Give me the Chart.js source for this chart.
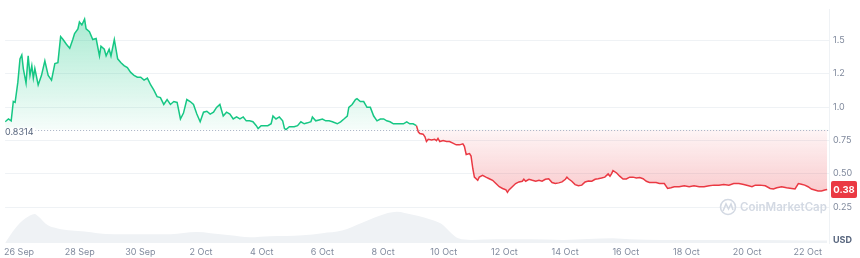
<!DOCTYPE html>
<html>
<head>
<meta charset="utf-8">
<script src="https://cdn.jsdelivr.net/npm/chart.js@4.4.0/dist/chart.umd.min.js"></script>
<style>
  html, body { margin: 0; padding: 0; background: #fff; }
</style>
</head>
<body>
<canvas id="priceChart" width="860" height="258"></canvas>
<script>
// 基準價（區間開盤價）
const BASELINE = 0.8314;

// 價格：距 26 Sep 00:00 的天數 / 價格 (USD)
const priceDays = [
  -0.46,-0.35,-0.26,-0.19,-0.13,-0.04,0.03,0.09,0.14,0.23,
  0.30,0.36,0.42,0.47,0.52,0.63,0.74,0.85,0.96,1.07,
  1.18,1.28,1.37,1.45,1.56,1.67,1.77,1.83,1.94,1.99,
  2.07,2.16,2.21,2.32,2.43,2.54,2.65,2.70,2.81,2.87,
  2.97,3.03,3.14,3.25,3.36,3.46,3.57,3.68,3.79,3.90,
  4.01,4.12,4.23,4.34,4.44,4.55,4.66,4.77,4.88,4.99,
  5.10,5.21,5.32,5.42,5.53,5.64,5.75,5.86,5.97,6.08,
  6.19,6.30,6.41,6.51,6.62,6.73,6.84,6.95,7.06,7.17,
  7.28,7.39,7.49,7.60,7.71,7.82,7.88,7.98,8.09,8.20,
  8.31,8.37,8.47,8.58,8.69,8.75,8.80,8.91,9.07,9.18,
  9.29,9.40,9.51,9.62,9.67,9.78,9.89,10.00,10.11,10.22,
  10.33,10.49,10.60,10.71,10.82,10.87,10.98,11.09,11.14,11.25,
  11.36,11.47,11.58,11.69,11.80,11.91,12.02,12.12,12.23,12.34,
  12.51,12.67,12.78,12.88,12.99,13.10,13.16,13.21,13.32,13.38,
  13.43,13.49,13.60,13.70,13.76,13.81,13.87,13.98,14.09,14.19,
  14.30,14.41,14.52,14.63,14.68,14.74,14.85,14.90,14.96,15.01,
  15.12,15.17,15.28,15.39,15.50,15.61,15.72,15.83,15.94,16.05,
  16.10,16.15,16.26,16.37,16.48,16.59,16.64,16.70,16.81,16.92,
  17.03,17.14,17.24,17.35,17.46,17.57,17.68,17.79,17.90,18.01,
  18.06,18.11,18.22,18.33,18.44,18.55,18.66,18.77,18.88,18.99,
  19.09,19.20,19.31,19.42,19.48,19.53,19.58,19.70,19.80,19.91,
  20.02,20.13,20.24,20.35,20.46,20.57,20.68,20.78,21.00,21.11,
  21.27,21.38,21.49,21.60,21.76,21.93,22.09,22.25,22.42,22.58,
  22.75,22.91,23.07,23.23,23.40,23.56,23.73,23.89,24.05,24.16,
  24.27,24.43,24.60,24.76,24.87,24.98,25.14,25.30,25.47,25.58,
  25.69,25.79,25.90,26.01,26.12,26.23,26.34,26.45,26.56,26.64
];
const priceValues = [
  0.890,0.911,0.897,1.042,1.035,1.187,1.362,1.391,1.289,1.180,
  1.384,1.238,1.311,1.217,1.289,1.166,1.238,1.347,1.238,1.202,
  1.326,1.333,1.529,1.507,1.471,1.442,1.507,1.551,1.587,1.638,
  1.616,1.660,1.587,1.565,1.507,1.514,1.384,1.456,1.434,1.384,
  1.434,1.384,1.507,1.362,1.333,1.311,1.296,1.260,1.238,1.224,
  1.224,1.202,1.217,1.166,1.129,1.078,1.071,1.020,1.057,1.020,
  1.042,1.035,0.911,0.955,1.057,1.042,1.020,0.948,0.890,0.962,
  0.969,0.948,0.962,0.998,1.020,0.933,0.962,0.948,0.911,0.926,
  0.911,0.926,0.897,0.897,0.890,0.861,0.839,0.861,0.861,0.861,
  0.875,0.933,0.911,0.926,0.897,0.839,0.832,0.853,0.853,0.861,
  0.890,0.875,0.882,0.890,0.926,0.897,0.904,0.911,0.897,0.897,
  0.890,0.875,0.890,0.911,0.933,0.998,1.020,1.057,1.064,1.042,
  1.042,0.998,0.998,0.933,0.897,0.911,0.911,0.897,0.890,0.875,
  0.875,0.875,0.890,0.875,0.875,0.861,0.815,0.802,0.797,0.778,
  0.742,0.759,0.754,0.759,0.749,0.766,0.742,0.749,0.742,0.742,
  0.730,0.717,0.717,0.725,0.706,0.645,0.652,0.633,0.536,0.475,
  0.451,0.475,0.488,0.475,0.463,0.451,0.427,0.403,0.390,0.379,
  0.361,0.379,0.403,0.427,0.439,0.444,0.459,0.444,0.459,0.451,
  0.444,0.451,0.444,0.459,0.463,0.434,0.427,0.432,0.439,0.459,
  0.475,0.463,0.444,0.419,0.410,0.415,0.439,0.446,0.444,0.459,
  0.463,0.468,0.475,0.499,0.482,0.499,0.524,0.506,0.482,0.461,
  0.461,0.475,0.475,0.469,0.472,0.463,0.444,0.435,0.434,0.427,
  0.427,0.390,0.395,0.403,0.403,0.410,0.403,0.410,0.403,0.403,
  0.410,0.415,0.415,0.419,0.415,0.427,0.427,0.419,0.410,0.403,
  0.415,0.415,0.410,0.390,0.386,0.395,0.403,0.395,0.390,0.386,
  0.427,0.422,0.415,0.403,0.386,0.379,0.371,0.371,0.379,0.382
];

// 成交量（百萬，示意單位）
const volumeDays = [
  -0.46,-0.13,0.20,0.52,0.62,0.95,1.27,1.73,2.16,2.58,
  3.14,3.89,5.00,5.85,6.31,6.96,7.61,8.27,9.35,10.00,
  10.65,11.31,11.86,12.45,12.71,13.17,13.59,13.92,14.25,14.48,
  14.90,15.78,16.86,17.94,19.58,20.13,21.21,22.32,23.40,24.48,
  26.11,26.64
];
const volumeValues = [
  0,28,47,56,52,34,28,24,22,19,
  17,17,17,21,19,15,11,13,15,19,
  24,39,52,60,58,52,45,37,19,9,
  6,7,7,6,9,7,6,6,6,6,
  5,5
];

// 座標軸刻度
const tickDays = [0,2,4,6,8,10,12,14,16,18,20,22,24,26];
const tickLabels = ['26 Sep','28 Sep','30 Sep','2 Oct','4 Oct','6 Oct','8 Oct',
                    '10 Oct','12 Oct','14 Oct','16 Oct','18 Oct','20 Oct','22 Oct'];
const priceTicks = [0, 0.25, 0.5, 0.75, 1.0, 1.25, 1.5];
const priceTickLabels = ['USD', '0.25', '0.50', '0.75', '1.0', '1.2', '1.5'];

const GREEN = '#16c784';
const RED = '#ea3943';
const FONT = 'Inter, "Noto Sans", sans-serif';

/**
 * 上綠下紅的漸層填色
 */
function fillGradient(context) {
  const chart = context.chart;
  const area = chart.chartArea;
  if (!area || !chart.scales.y) return 'transparent';
  const y = chart.scales.y;
  const top = y.getPixelForValue(Math.max(...priceValues));
  const bottom = y.getPixelForValue(Math.min(...priceValues));
  const base = y.getPixelForValue(BASELINE);
  const stop = Math.min(Math.max((base - top) / (bottom - top), 0), 1);
  const g = chart.ctx.createLinearGradient(0, top, 0, bottom);
  g.addColorStop(0, 'rgba(22,199,132,0.36)');
  g.addColorStop(stop, 'rgba(22,199,132,0.04)');
  g.addColorStop(stop, 'rgba(234,57,67,0.05)');
  g.addColorStop(1, 'rgba(234,57,67,0.26)');
  return g;
}

function isUsdTick(c) {
  return !!(c && c.tick && c.tick.value === 0);
}

/**
 * 基準虛線、標籤、最新價與浮水印
 */
const overlayPlugin = {
  id: 'overlay',
  beforeDatasetsDraw(chart) {
    const { ctx } = chart;
    // 浮水印
    ctx.save();
    ctx.strokeStyle = '#d3d9e3';
    ctx.lineWidth = 1.6;
    ctx.beginPath();
    ctx.arc(728, 207, 7.5, 0, Math.PI * 2);
    ctx.stroke();
    ctx.beginPath();
    ctx.moveTo(723, 211);
    ctx.lineTo(726, 204);
    ctx.lineTo(728.5, 209);
    ctx.lineTo(731, 204);
    ctx.lineTo(733, 210);
    ctx.stroke();
    ctx.fillStyle = '#d3d9e3';
    ctx.font = '600 11.5px ' + FONT;
    ctx.textBaseline = 'middle';
    ctx.fillText('CoinMarketCap', 740, 207.5);
    ctx.restore();
  },
  afterDatasetsDraw(chart) {
    const { ctx, chartArea: a, scales: { y } } = chart;
    const by = Math.round(y.getPixelForValue(BASELINE)) + 0.5;
    ctx.save();
    ctx.setLineDash([1, 2]);
    ctx.strokeStyle = '#a6b0c3';
    ctx.lineWidth = 1;
    ctx.beginPath();
    ctx.moveTo(a.left, by);
    ctx.lineTo(a.right, by);
    ctx.stroke();
    ctx.setLineDash([]);

    // 基準價標籤
    ctx.font = '9px ' + FONT;
    const txt = String(BASELINE);
    const w = ctx.measureText(txt).width;
    ctx.fillStyle = 'rgba(255,255,255,0.95)';
    ctx.fillRect(3, by - 3, w + 4, 10);
    ctx.fillStyle = '#58667e';
    ctx.textBaseline = 'middle';
    ctx.textAlign = 'left';
    ctx.fillText(txt, 5, by + 2);

    // 最新價標籤
    const last = priceValues[priceValues.length - 1];
    const ly = y.getPixelForValue(last);
    ctx.fillStyle = RED;
    ctx.beginPath();
    ctx.roundRect(a.right + 2, ly - 8.5, 26, 17, 2);
    ctx.fill();
    ctx.fillStyle = '#fff';
    ctx.font = 'bold 9.5px ' + FONT;
    ctx.textAlign = 'center';
    ctx.fillText(last.toFixed(2), a.right + 15, ly + 0.5);
    ctx.restore();
  }
};

const ctx = document.getElementById('priceChart').getContext('2d');
const chart = new Chart(ctx, {
  type: 'line',
  data: {
    datasets: [
      {
        label: 'Price',
        data: priceDays.map((d, i) => ({ x: d, y: priceValues[i] })),
        yAxisID: 'y',
        borderWidth: 1.5,
        pointRadius: 0,
        tension: 0,
        borderColor: GREEN,
        segment: {
          borderColor: c => (c.p0.parsed.y < BASELINE || c.p1.parsed.y < BASELINE) ? RED : GREEN
        },
        fill: { value: BASELINE },
        backgroundColor: fillGradient,
        order: 1
      },
      {
        label: 'Volume',
        data: volumeDays.map((d, i) => ({ x: d, y: volumeValues[i] })),
        yAxisID: 'yv',
        borderWidth: 0,
        pointRadius: 0,
        cubicInterpolationMode: 'monotone',
        fill: 'origin',
        backgroundColor: '#eff2f5',
        order: 2
      }
    ]
  },
  options: {
    responsive: false,
    animation: false,
    devicePixelRatio: 1,
    layout: { padding: { top: 2, left: 0, right: 0, bottom: 0 } },
    plugins: {
      legend: { display: false },
      tooltip: { enabled: false }
    },
    scales: {
      x: {
        type: 'linear',
        min: -0.46,
        max: 26.7,
        afterBuildTicks: s => { s.ticks = tickDays.map(v => ({ value: v })); },
        afterFit: s => { s.height = 15; },
        grid: { display: false, drawTicks: false },
        border: { display: false },
        ticks: {
          autoSkip: false,
          maxRotation: 0,
          padding: 4,
          color: '#808a9d',
          font: { family: FONT, size: 9 },
          callback: v => {
            const i = tickDays.indexOf(v);
            return i < 0 ? '' : tickLabels[i];
          }
        }
      },
      y: {
        position: 'right',
        min: -0.0189,
        max: 1.7326,
        afterBuildTicks: s => { s.ticks = priceTicks.map(v => ({ value: v })); },
        afterFit: s => { s.width = 31; },
        grid: {
          drawTicks: false,
          color: c => isUsdTick(c) ? 'rgba(0,0,0,0)' : '#eff2f5'
        },
        border: { display: true, color: '#eff2f5' },
        ticks: {
          padding: 4,
          color: c => isUsdTick(c) ? '#58667e' : '#808a9d',
          font: c => ({ family: FONT, size: 9, weight: isUsdTick(c) ? 'bold' : 'normal' }),
          callback: v => {
            const i = priceTicks.indexOf(v);
            return i < 0 ? '' : priceTickLabels[i];
          }
        }
      },
      yv: {
        display: false,
        min: 0,
        max: 450
      }
    }
  },
  plugins: [overlayPlugin]
});
</script>
</body>
</html>
